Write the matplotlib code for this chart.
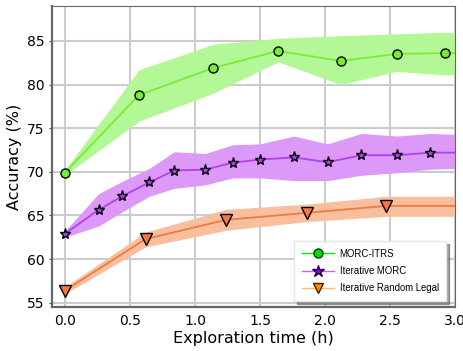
import numpy as np
import matplotlib.pyplot as plt
from matplotlib.lines import Line2D

# MORC-ITRS
x_itrs = [0.0, 0.57, 1.14, 1.64, 2.12, 2.55, 2.92, 3.0]
y_itrs = [69.9, 78.8, 81.9, 83.85, 82.7, 83.5, 83.6, 83.6]
lo_itrs = [69.6, 75.8, 79.0, 82.6, 80.0, 81.5, 81.1, 81.1]
hi_itrs = [70.2, 81.7, 84.6, 85.3, 85.6, 85.8, 86.0, 85.9]

# Iterative MORC
x_morc = [0.0, 0.26, 0.44, 0.65, 0.84, 1.08, 1.29, 1.50, 1.76, 2.02, 2.28, 2.55, 2.81, 3.0]
y_morc = [62.9, 65.65, 67.2, 68.8, 70.15, 70.25, 71.05, 71.4, 71.65, 71.1, 71.9, 71.9, 72.2, 72.2]
lo_morc = [62.5, 63.8, 65.4, 67.2, 68.1, 68.5, 69.3, 69.3, 69.0, 69.0, 69.6, 69.9, 70.3, 70.4]
hi_morc = [63.2, 67.5, 68.9, 70.4, 72.3, 72.1, 73.1, 73.2, 74.1, 73.2, 74.4, 74.1, 74.4, 74.3]

# Iterative Random Legal
x_rand = [0.0, 0.62, 1.24, 1.86, 2.47, 3.0]
y_rand = [56.4, 62.3, 64.5, 65.3, 66.1, 66.1]
lo_rand = [56.0, 61.4, 63.3, 64.3, 64.9, 64.9]
hi_rand = [56.8, 63.1, 65.7, 66.3, 67.2, 67.2]

fig = plt.figure(figsize=(4.63, 3.51), dpi=100)
ax = fig.add_axes([0.112, 0.125, 0.871, 0.858])

series = [
    (x_itrs, y_itrs, lo_itrs, hi_itrs, '#77ee33', '#b4f796', 'o', 6.5),
    (x_morc, y_morc, lo_morc, hi_morc, '#b040f0', '#dd99f7', '*', 8),
    (x_rand, y_rand, lo_rand, hi_rand, '#f07a40', '#f8bf9f', 'v', 8),
]
for xs, ys, lo, hi, c, fc, m, ms in series:
    ax.fill_between(xs, lo, hi, color=fc, lw=0, zorder=2)
    ax.plot(xs, ys, color=c, lw=1.3, marker=m, ms=ms, mfc=c, mec='black',
            mew=1.0, markevery=list(range(len(xs) - 1)), zorder=3)

ax.set_xlim(-0.1, 3.0)
ax.set_ylim(54.5, 89)
ax.set_xticks([0.0, 0.5, 1.0, 1.5, 2.0, 2.5, 3.0])
ax.set_yticks([55, 60, 65, 70, 75, 80, 85])
ax.grid(True, color='#cccccc', lw=1.5, zorder=0)
ax.set_axisbelow(True)
for s in ax.spines.values():
    s.set_color('#666666')
ax.spines['left'].set_linewidth(1.6)
ax.spines['bottom'].set_linewidth(1.6)
ax.tick_params(axis='x', labelsize=10, length=0, pad=5)
ax.tick_params(axis='y', labelsize=10, length=2.5, pad=3, color='#444444')
ax.set_xlabel('Exploration time (h)', fontsize=11.5, labelpad=2)
ax.set_ylabel('Accuracy (%)', fontsize=11.5, labelpad=3)

handles = [
    Line2D([], [], color='#00ee00', marker='o', mfc='#00dd00', mec='#004400', ms=6.5, lw=1),
    Line2D([], [], color='#bb66ff', marker='*', mfc='#7f00ff', mec='#220044', ms=9, lw=1),
    Line2D([], [], color='#ffbb66', marker='v', mfc='#ff8800', mec='#442200', ms=7, lw=1),
]
leg = ax.legend(handles, ['MORC-ITRS', 'Iterative MORC', 'Iterative Random Legal'],
                loc='lower right', bbox_to_anchor=(0.99, 0.005),
                prop={'family': 'Liberation Sans', 'size': 6.9},
                fancybox=False, shadow=True, framealpha=1, edgecolor='#e6e6e6',
                handlelength=3.3, handletextpad=0.6, borderpad=0.8, labelspacing=0.75)
leg.set_zorder(5)

fig.savefig('out.png', dpi=100)
